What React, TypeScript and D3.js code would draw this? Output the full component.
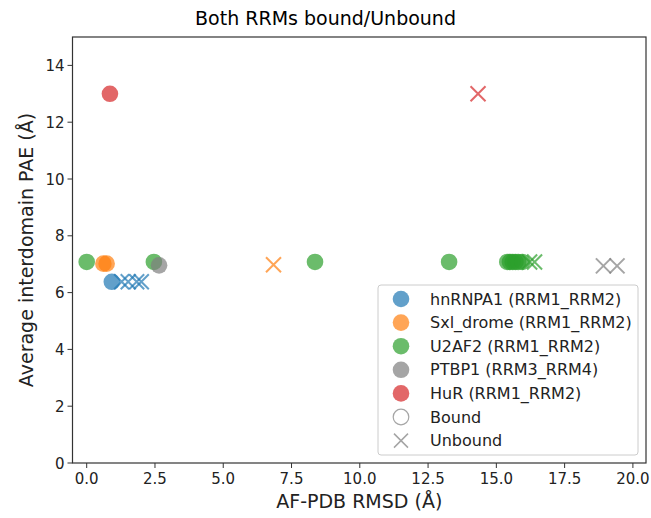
import React from "react";
import * as d3 from "d3";

const W = 651, H = 518;
const M = { left: 72.5, top: 37, right: 646, bottom: 463 };

const proteins = ["hnRNPA1 (RRM1_RRM2)", "Sxl_drome (RRM1_RRM2)", "U2AF2 (RRM1_RRM2)", "PTBP1 (RRM3_RRM4)", "HuR (RRM1_RRM2)"];
const colors = ["#1f77b4", "#ff7f0e", "#2ca02c", "#7f7f7f", "#d62728"];

// [rmsd, pae]
const boundHn = [[0.92, 6.38]];
const unboundHn = [[1.28, 6.38], [1.52, 6.38], [1.83, 6.38], [2.0, 6.38]];
const boundSxl = [[0.61, 7.02], [0.73, 7.02]];
const unboundSxl = [[6.84, 6.98]];
const boundU2 = [[0.0, 7.08], [2.46, 7.08], [8.36, 7.08], [13.27, 7.08], [15.4, 7.08], [15.5, 7.08], [15.6, 7.08], [15.7, 7.08], [15.8, 7.08], [15.95, 7.08]];
const unboundU2 = [[16.22, 7.08], [16.4, 7.08]];
const boundPt = [[2.65, 6.96]];
const unboundPt = [[18.92, 6.94], [19.42, 6.94]];
const boundHuR = [[0.85, 13.0]];
const unboundHuR = [[14.33, 13.0]];

const series = [
  { c: 0, bound: boundHn, unbound: unboundHn },
  { c: 1, bound: boundSxl, unbound: unboundSxl },
  { c: 2, bound: boundU2, unbound: unboundU2 },
  { c: 3, bound: boundPt, unbound: unboundPt },
  { c: 4, bound: boundHuR, unbound: unboundHuR },
];

const xTicks = [0, 2.5, 5, 7.5, 10, 12.5, 15, 17.5, 20];
const yTicks = [0, 2, 4, 6, 8, 10, 12, 14];

const FONT = "DejaVu Sans, sans-serif";

export default function App() {
  const x = d3.scaleLinear().domain([-0.52, 20.48]).range([M.left, M.right]);
  const y = d3.scaleLinear().domain([0, 15]).range([M.bottom, M.top]);
  const r = 8.3;
  const xs = 7.5;
  const alpha = 0.7;

  const cross = (cx: number, cy: number, col: string, key: string, s = xs, sw = 2) => (
    <path key={key} d={`M${cx - s},${cy - s}L${cx + s},${cy + s}M${cx - s},${cy + s}L${cx + s},${cy - s}`}
      stroke={col} strokeWidth={sw} strokeOpacity={alpha} fill="none" />
  );

  const legX = 378, legY = 285, legW = 260, legH = 170;
  const rowY = (i: number) => 299 + i * 23.6;
  const legFs = 16;

  return (
    <svg width={W} height={H} style={{ position: "absolute", left: 0, top: 0 }} fontFamily={FONT}>
      <rect width={W} height={H} fill="#fff" />
      <text x={325.5} y={25} textAnchor="middle" fontSize={19} fill="#000">Both RRMs bound/Unbound</text>
      {/* points */}
      {series.map((s) => (
        <g key={s.c}>
          {s.bound.map((d, i) => (
            <circle key={"b" + i} cx={x(d[0])} cy={y(d[1])} r={r} fill={colors[s.c]} fillOpacity={alpha} />
          ))}
          {s.unbound.map((d, i) => cross(x(d[0]), y(d[1]), colors[s.c], "u" + i))}
        </g>
      ))}
      {/* axes */}
      <rect x={M.left} y={M.top} width={M.right - M.left} height={M.bottom - M.top} fill="none" stroke="#333" strokeWidth={1.2} />
      {xTicks.map((t) => (
        <g key={t}>
          <line x1={x(t)} x2={x(t)} y1={M.bottom} y2={M.bottom + 5} stroke="#333" strokeWidth={1} />
          <text x={x(t)} y={M.bottom + 21} textAnchor="middle" fontSize={15} fill="#222">{t.toFixed(1)}</text>
        </g>
      ))}
      {yTicks.map((t) => (
        <g key={t}>
          <line x1={M.left - 5} x2={M.left} y1={y(t)} y2={y(t)} stroke="#333" strokeWidth={1} />
          <text x={M.left - 8} y={y(t) + 5.5} textAnchor="end" fontSize={15} fill="#222">{t}</text>
        </g>
      ))}
      <text x={(M.left + M.right) / 2} y={508} textAnchor="middle" fontSize={19} fill="#222">AF-PDB RMSD (Å)</text>
      <text transform={`translate(33,${(M.top + M.bottom) / 2}) rotate(-90)`} textAnchor="middle" fontSize={19} fill="#222">Average interdomain PAE (Å)</text>
      {/* legend */}
      <rect x={legX} y={legY} width={legW} height={legH} rx={3} fill="#fff" fillOpacity={0.8} stroke="#ccc" strokeWidth={1} />
      {proteins.map((p, i) => (
        <g key={p}>
          <circle cx={401} cy={rowY(i)} r={r} fill={colors[i]} fillOpacity={alpha} />
          <text x={430} y={rowY(i) + 5.5} fontSize={legFs} fill="#222">{p}</text>
        </g>
      ))}
      <circle cx={401} cy={rowY(5)} r={r - 0.5} fill="none" stroke="#7f7f7f" strokeOpacity={alpha} strokeWidth={1.2} />
      <text x={430} y={rowY(5) + 5.5} fontSize={legFs} fill="#222">Bound</text>
      {cross(401, rowY(6), "#7f7f7f", "legx", 7, 1.5)}
      <text x={430} y={rowY(6) + 5.5} fontSize={legFs} fill="#222">Unbound</text>
    </svg>
  );
}
